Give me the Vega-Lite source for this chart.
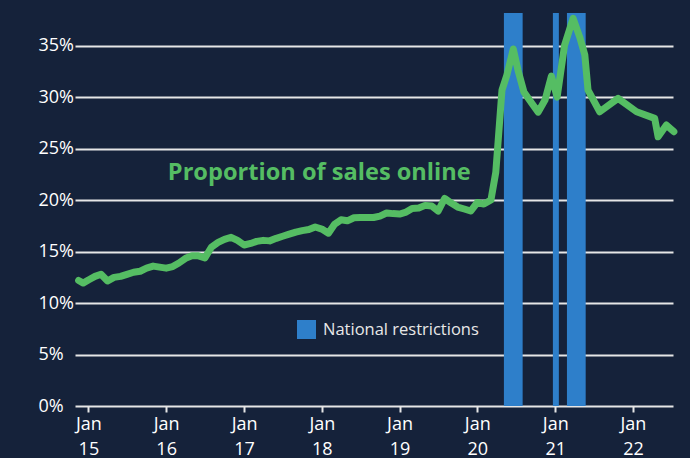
{
  "$schema": "https://vega.github.io/schema/vega-lite/v6.json",
  "autosize": "none",
  "width": 598,
  "height": 393,
  "padding": {"left": 75, "top": 13, "right": 17, "bottom": 52},
  "background": "#15223a",
  "config": {
    "view": {"stroke": null},
    "font": "Open Sans"
  },
  "datasets": {
    "online": [
      {"date": "2014-11-16", "share": 0.122},
      {"date": "2014-12-08", "share": 0.1195},
      {"date": "2015-01-01", "share": 0.1225},
      {"date": "2015-02-01", "share": 0.126},
      {"date": "2015-03-01", "share": 0.128},
      {"date": "2015-04-01", "share": 0.1215},
      {"date": "2015-05-01", "share": 0.125},
      {"date": "2015-06-01", "share": 0.126},
      {"date": "2015-07-01", "share": 0.128},
      {"date": "2015-08-01", "share": 0.130},
      {"date": "2015-09-01", "share": 0.131},
      {"date": "2015-10-01", "share": 0.134},
      {"date": "2015-11-01", "share": 0.136},
      {"date": "2015-12-01", "share": 0.135},
      {"date": "2016-01-01", "share": 0.134},
      {"date": "2016-02-01", "share": 0.1355},
      {"date": "2016-03-01", "share": 0.139},
      {"date": "2016-04-01", "share": 0.1435},
      {"date": "2016-05-01", "share": 0.146},
      {"date": "2016-06-01", "share": 0.146},
      {"date": "2016-07-01", "share": 0.144},
      {"date": "2016-08-01", "share": 0.1545},
      {"date": "2016-09-01", "share": 0.159},
      {"date": "2016-10-01", "share": 0.162},
      {"date": "2016-11-01", "share": 0.164},
      {"date": "2016-12-01", "share": 0.161},
      {"date": "2017-01-01", "share": 0.1565},
      {"date": "2017-02-01", "share": 0.158},
      {"date": "2017-03-01", "share": 0.160},
      {"date": "2017-04-01", "share": 0.161},
      {"date": "2017-05-01", "share": 0.1605},
      {"date": "2017-06-01", "share": 0.163},
      {"date": "2017-07-01", "share": 0.165},
      {"date": "2017-08-01", "share": 0.167},
      {"date": "2017-09-01", "share": 0.169},
      {"date": "2017-10-01", "share": 0.1705},
      {"date": "2017-11-01", "share": 0.1715},
      {"date": "2017-12-01", "share": 0.174},
      {"date": "2018-01-01", "share": 0.172},
      {"date": "2018-02-01", "share": 0.168},
      {"date": "2018-03-01", "share": 0.1765},
      {"date": "2018-04-01", "share": 0.181},
      {"date": "2018-05-01", "share": 0.180},
      {"date": "2018-06-01", "share": 0.183},
      {"date": "2018-07-01", "share": 0.1832},
      {"date": "2018-08-01", "share": 0.1832},
      {"date": "2018-09-01", "share": 0.1832},
      {"date": "2018-10-01", "share": 0.1846},
      {"date": "2018-11-01", "share": 0.1876},
      {"date": "2018-12-01", "share": 0.187},
      {"date": "2019-01-01", "share": 0.1866},
      {"date": "2019-02-01", "share": 0.1885},
      {"date": "2019-03-01", "share": 0.192},
      {"date": "2019-04-01", "share": 0.1924},
      {"date": "2019-05-01", "share": 0.195},
      {"date": "2019-06-01", "share": 0.1944},
      {"date": "2019-07-01", "share": 0.1895},
      {"date": "2019-08-01", "share": 0.2017},
      {"date": "2019-09-01", "share": 0.1973},
      {"date": "2019-10-01", "share": 0.1934},
      {"date": "2019-11-01", "share": 0.1915},
      {"date": "2019-12-01", "share": 0.1895},
      {"date": "2020-01-01", "share": 0.1978},
      {"date": "2020-02-01", "share": 0.1963},
      {"date": "2020-03-05", "share": 0.2002},
      {"date": "2020-03-28", "share": 0.2274},
      {"date": "2020-04-26", "share": 0.3071},
      {"date": "2020-05-19", "share": 0.3217},
      {"date": "2020-06-18", "share": 0.347},
      {"date": "2020-07-10", "share": 0.3265},
      {"date": "2020-08-07", "share": 0.3052},
      {"date": "2020-09-12", "share": 0.2945},
      {"date": "2020-10-13", "share": 0.2857},
      {"date": "2020-11-14", "share": 0.2974},
      {"date": "2020-12-14", "share": 0.3207},
      {"date": "2021-01-10", "share": 0.3003},
      {"date": "2021-02-14", "share": 0.3508},
      {"date": "2021-03-26", "share": 0.3768},
      {"date": "2021-04-26", "share": 0.3586},
      {"date": "2021-05-20", "share": 0.3411},
      {"date": "2021-06-04", "share": 0.3071},
      {"date": "2021-07-29", "share": 0.286},
      {"date": "2021-10-23", "share": 0.299},
      {"date": "2022-01-18", "share": 0.286},
      {"date": "2022-04-13", "share": 0.2796},
      {"date": "2022-04-29", "share": 0.2617},
      {"date": "2022-06-07", "share": 0.2731},
      {"date": "2022-07-12", "share": 0.2666}
    ],
    "restrictions": [
      {"start": "2020-05-05", "end": "2020-08-01", "label": "National restrictions"},
      {"start": "2020-12-21", "end": "2021-01-18", "label": "National restrictions"},
      {"start": "2021-02-25", "end": "2021-05-24", "label": "National restrictions"}
    ],
    "annotation": [
      {"text": "Proportion of sales online"}
    ]
  },
  "encoding": {
    "x": {
      "type": "temporal",
      "scale": {"type": "utc", "domain": ["2014-10-30", "2022-07-08"]},
      "axis": {
        "title": null,
        "domain": false,
        "grid": false,
        "values": [
          {"year": 2015, "month": 1, "date": 1, "utc": true},
          {"year": 2016, "month": 1, "date": 1, "utc": true},
          {"year": 2017, "month": 1, "date": 1, "utc": true},
          {"year": 2018, "month": 1, "date": 1, "utc": true},
          {"year": 2019, "month": 1, "date": 1, "utc": true},
          {"year": 2020, "month": 1, "date": 1, "utc": true},
          {"year": 2021, "month": 1, "date": 1, "utc": true},
          {"year": 2022, "month": 1, "date": 1, "utc": true}
        ],
        "labelExpr": "['Jan', utcFormat(datum.value, '%y')]",
        "labelFont": "Open Sans",
        "labelFontSize": 18,
        "labelColor": "#ffffff",
        "labelLineHeight": 25,
        "labelAlign": "center",
        "labelBaseline": "top",
        "labelPadding": 3,
        "ticks": true,
        "tickSize": 6,
        "tickWidth": 2,
        "tickColor": "#e6e6e6",
        "labelFlush": false,
        "labelOverlap": false
      }
    }
  },
  "layer": [
    {
      "data": {"name": "restrictions"},
      "mark": {"type": "rect", "opacity": 1},
      "encoding": {
        "x": {"field": "start", "type": "temporal"},
        "x2": {"field": "end"},
        "color": {
          "field": "label",
          "type": "nominal",
          "scale": {"range": ["#2e7fca"]},
          "legend": {
            "title": null,
            "orient": "none",
            "legendX": 222,
            "legendY": 307,
            "padding": 0,
            "symbolType": "square",
            "symbolSize": 361,
            "symbolStrokeWidth": 0,
            "symbolOpacity": 1,
            "labelFont": "Open Sans",
            "labelFontSize": 16.5,
            "labelColor": "#e8e8e8",
            "labelOffset": 7
          }
        }
      }
    },
    {
      "data": {"name": "online"},
      "mark": {"type": "line", "color": "#55bd63", "strokeWidth": 7, "strokeCap": "round", "strokeJoin": "round", "clip": false},
      "encoding": {
        "x": {"field": "date", "type": "temporal"},
        "y": {
          "field": "share",
          "type": "quantitative",
          "scale": {"domain": [0, 0.382], "nice": false, "zero": true},
          "axis": {
            "title": null,
            "domain": false,
            "ticks": false,
            "tickSize": 0,
            "values": [0, 0.05, 0.1, 0.15, 0.2, 0.25, 0.3, 0.35],
            "format": ".0%",
            "labelFont": "Open Sans",
            "labelAlign": "left",
            "labelBaseline": "middle",
            "labelPadding": 37,
            "labelFontSize": 18,
            "labelColor": "#ffffff",
            "grid": true,
            "gridColor": "#e6e6e6",
            "gridWidth": 2
          }
        }
      }
    },
    {
      "data": {"name": "annotation"},
      "mark": {"type": "text", "font": "Open Sans", "fontWeight": "bold", "fontSize": 23.6, "color": "#55bd63", "align": "center", "baseline": "middle"},
      "encoding": {
        "text": {"field": "text", "type": "nominal"},
        "x": {"datum": {"year": 2017, "month": 12, "date": 20, "utc": true}, "type": "temporal"},
        "y": {"datum": 0.2264, "type": "quantitative"}
      }
    }
  ]
}
